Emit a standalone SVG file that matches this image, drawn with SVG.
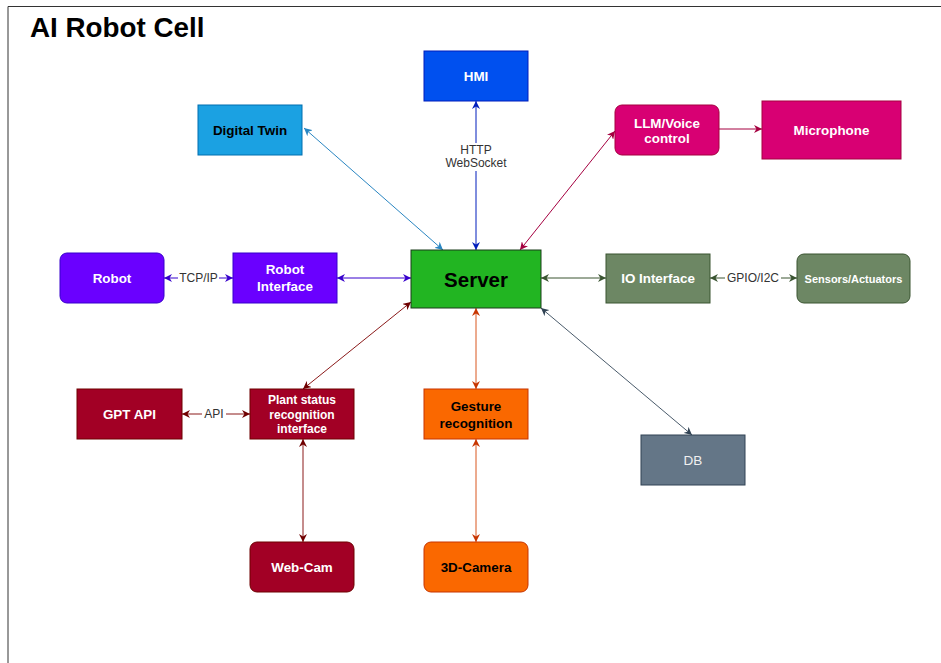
<svg xmlns="http://www.w3.org/2000/svg" width="941" height="663" viewBox="0 0 941 663">
  <style>
    .t { font-family: "Liberation Sans", Arial, Helvetica, sans-serif; text-anchor: middle; dominant-baseline: central; }
    .b { font-weight: bold; font-size: 13.4px; }
    .w { fill: #ffffff; }
    .k { fill: #000000; }
    .lbl { font-family: "Liberation Sans", Arial, sans-serif; font-size: 12px; fill: #333333; text-anchor: middle; dominant-baseline: central; }
    .e { fill: none; stroke-width: 1; }
  </style>
  <defs>
    <marker id="aDT" viewBox="0 0 10 10" refX="10" refY="5" markerWidth="8" markerHeight="8" markerUnits="userSpaceOnUse" orient="auto-start-reverse"><path d="M0,0 L10,5 L0,10 L3,5 z" fill="#2A86C2"/></marker>
    <marker id="aHMI" viewBox="0 0 10 10" refX="10" refY="5" markerWidth="8" markerHeight="8" markerUnits="userSpaceOnUse" orient="auto-start-reverse"><path d="M0,0 L10,5 L0,10 L3,5 z" fill="#001DBC"/></marker>
    <marker id="aLLM" viewBox="0 0 10 10" refX="10" refY="5" markerWidth="8" markerHeight="8" markerUnits="userSpaceOnUse" orient="auto-start-reverse"><path d="M0,0 L10,5 L0,10 L3,5 z" fill="#A50040"/></marker>
    <marker id="aRob" viewBox="0 0 10 10" refX="10" refY="5" markerWidth="8" markerHeight="8" markerUnits="userSpaceOnUse" orient="auto-start-reverse"><path d="M0,0 L10,5 L0,10 L3,5 z" fill="#3700CC"/></marker>
    <marker id="aIO" viewBox="0 0 10 10" refX="10" refY="5" markerWidth="8" markerHeight="8" markerUnits="userSpaceOnUse" orient="auto-start-reverse"><path d="M0,0 L10,5 L0,10 L3,5 z" fill="#3A5431"/></marker>
    <marker id="aPl" viewBox="0 0 10 10" refX="10" refY="5" markerWidth="8" markerHeight="8" markerUnits="userSpaceOnUse" orient="auto-start-reverse"><path d="M0,0 L10,5 L0,10 L3,5 z" fill="#6F0000"/></marker>
    <marker id="aGe" viewBox="0 0 10 10" refX="10" refY="5" markerWidth="8" markerHeight="8" markerUnits="userSpaceOnUse" orient="auto-start-reverse"><path d="M0,0 L10,5 L0,10 L3,5 z" fill="#C73500"/></marker>
    <marker id="aDB" viewBox="0 0 10 10" refX="10" refY="5" markerWidth="8" markerHeight="8" markerUnits="userSpaceOnUse" orient="auto-start-reverse"><path d="M0,0 L10,5 L0,10 L3,5 z" fill="#314354"/></marker>
  </defs>

  <rect x="0" y="0" width="941" height="663" fill="#ffffff"/>
  <!-- frame -->
  <path d="M8,663 L8,6.5 L941,6.5" fill="none" stroke="#333333" stroke-width="1"/>
  <text x="30" y="27" class="t" style="text-anchor:start;font-weight:bold;font-size:27.8px" fill="#000">AI Robot Cell</text>

  <!-- connectors -->
  <g id="connectors">
    <line class="e" x1="304" y1="128" x2="443" y2="250" stroke="#2A86C2" marker-start="url(#aDT)" marker-end="url(#aDT)"/>
    <line class="e" x1="476" y1="101" x2="476" y2="250" stroke="#001DBC" marker-start="url(#aHMI)" marker-end="url(#aHMI)"/>
    <rect x="443" y="143" width="66" height="28" fill="#ffffff"/>
    <text class="lbl" x="476" y="150">HTTP</text>
    <text class="lbl" x="476" y="163">WebSocket</text>
    <line class="e" x1="615" y1="131" x2="520" y2="250" stroke="#A50040" marker-start="url(#aLLM)" marker-end="url(#aLLM)"/>
    <line class="e" x1="719" y1="129" x2="762" y2="129" stroke="#A50040" marker-end="url(#aLLM)"/>
    <line class="e" x1="164" y1="278" x2="233" y2="278" stroke="#3700CC" marker-start="url(#aRob)" marker-end="url(#aRob)"/>
    <rect x="178" y="271" width="41" height="14" fill="#ffffff"/>
    <text class="lbl" x="198.5" y="278">TCP/IP</text>
    <line class="e" x1="337" y1="278" x2="411" y2="278" stroke="#3700CC" marker-start="url(#aRob)" marker-end="url(#aRob)"/>
    <line class="e" x1="541" y1="278" x2="606" y2="278" stroke="#3A5431" marker-start="url(#aIO)" marker-end="url(#aIO)"/>
    <line class="e" x1="710" y1="278" x2="797" y2="278" stroke="#3A5431" marker-start="url(#aIO)" marker-end="url(#aIO)"/>
    <rect x="725" y="271" width="56" height="14" fill="#ffffff"/>
    <text class="lbl" x="753" y="278">GPIO/I2C</text>
    <line class="e" x1="411" y1="302" x2="303" y2="389" stroke="#8B1A1A" marker-start="url(#aPl)" marker-end="url(#aPl)"/>
    <line class="e" x1="476" y1="308" x2="476" y2="389" stroke="#D9571F" marker-start="url(#aGe)" marker-end="url(#aGe)"/>
    <line class="e" x1="541" y1="308" x2="692" y2="435" stroke="#4A5B6B" marker-start="url(#aDB)" marker-end="url(#aDB)"/>
    <line class="e" x1="182" y1="414" x2="250" y2="414" stroke="#8B1A1A" marker-start="url(#aPl)" marker-end="url(#aPl)"/>
    <rect x="202" y="407" width="24" height="14" fill="#ffffff"/>
    <text class="lbl" x="214" y="414">API</text>
    <line class="e" x1="303" y1="439" x2="303" y2="542" stroke="#8B1A1A" marker-start="url(#aPl)" marker-end="url(#aPl)"/>
    <line class="e" x1="476" y1="439" x2="476" y2="542" stroke="#D9571F" marker-start="url(#aGe)" marker-end="url(#aGe)"/>
  </g>

  <!-- nodes -->
  <g id="hmi">
    <rect x="424" y="51" width="104" height="50" fill="#0050EF" stroke="#001DBC"/>
    <text class="t b w" x="476" y="76">HMI</text>
  </g>
  <g id="digital-twin">
    <rect x="198" y="105" width="104" height="50" fill="#1BA1E2" stroke="#006EAF"/>
    <text class="t b k" x="250" y="130">Digital Twin</text>
  </g>
  <g id="llm-voice">
    <rect x="615" y="105" width="104" height="50" rx="7" fill="#D80073" stroke="#A50040"/>
    <text class="t b w" x="667" y="123">LLM/Voice</text>
    <text class="t b w" x="667" y="138">control</text>
  </g>
  <g id="microphone">
    <rect x="762" y="101" width="139" height="58" fill="#D80073" stroke="#A50040"/>
    <text class="t b w" x="831.5" y="130">Microphone</text>
  </g>
  <g id="robot">
    <rect x="60" y="253" width="104" height="50" rx="7" fill="#6A00FF" stroke="#3700CC"/>
    <text class="t b w" x="112" y="278">Robot</text>
  </g>
  <g id="robot-interface">
    <rect x="233" y="253" width="104" height="50" fill="#6A00FF" stroke="#3700CC"/>
    <text class="t b w" x="285" y="269">Robot</text>
    <text class="t b w" x="285" y="286">Interface</text>
  </g>
  <g id="server">
    <rect x="411" y="250" width="130" height="58" fill="#22B522" stroke="#1A3D1A"/>
    <text class="t k" x="476" y="279" style="font-weight:bold;font-size:20.5px">Server</text>
  </g>
  <g id="io-interface">
    <rect x="606" y="254" width="104" height="49" fill="#6D8764" stroke="#3A5431"/>
    <text class="t b w" x="658" y="278.5">IO Interface</text>
  </g>
  <g id="sensors-actuators">
    <rect x="797" y="254" width="113" height="49" rx="7" fill="#6D8764" stroke="#3A5431"/>
    <text class="t w" x="853.5" y="278.5" style="font-weight:bold;font-size:11px">Sensors/Actuators</text>
  </g>
  <g id="gpt-api">
    <rect x="77" y="389" width="105" height="50" fill="#A20025" stroke="#6F0000"/>
    <text class="t b w" x="129.5" y="414">GPT API</text>
  </g>
  <g id="plant-status">
    <rect x="250" y="389" width="104" height="50" fill="#A20025" stroke="#6F0000"/>
    <text class="t w" x="302" y="400" style="font-weight:bold;font-size:12px">Plant status</text>
    <text class="t w" x="302" y="414.5" style="font-weight:bold;font-size:12px">recognition</text>
    <text class="t w" x="302" y="429" style="font-weight:bold;font-size:12px">interface</text>
  </g>
  <g id="gesture">
    <rect x="424" y="389" width="104" height="50" fill="#FA6800" stroke="#C73500"/>
    <text class="t b k" x="476" y="406">Gesture</text>
    <text class="t b k" x="476" y="423">recognition</text>
  </g>
  <g id="db">
    <rect x="641" y="435" width="104" height="50" fill="#647687" stroke="#314354"/>
    <text class="t" x="693" y="460" style="font-size:13.5px;fill:#f0f0f0">DB</text>
  </g>
  <g id="web-cam">
    <rect x="250" y="542" width="104" height="50" rx="7" fill="#A20025" stroke="#6F0000"/>
    <text class="t b w" x="302" y="567">Web-Cam</text>
  </g>
  <g id="camera-3d">
    <rect x="424" y="542" width="104" height="50" rx="7" fill="#FA6800" stroke="#C73500"/>
    <text class="t b k" x="476" y="567">3D-Camera</text>
  </g>
</svg>
